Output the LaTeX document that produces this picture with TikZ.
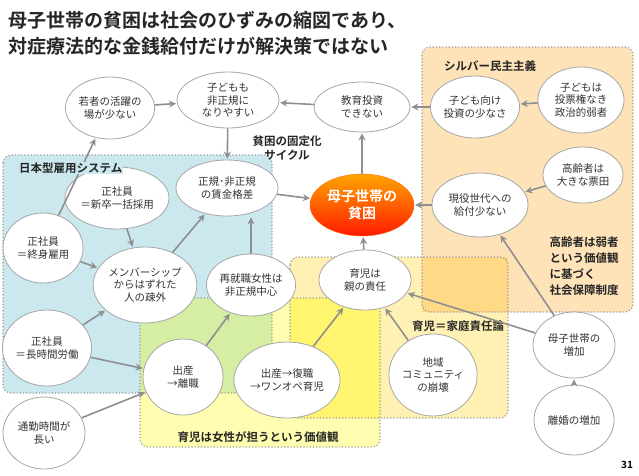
\documentclass[tikz,border=0pt]{standalone}
\usepackage{fontspec}
\setmainfont{Noto Sans CJK JP}
\newfontfamily\jpb{Noto Sans CJK JP}[BoldFont={* Bold}]
\usetikzlibrary{arrows.meta,shapes.geometric}
\definecolor{cblue}{HTML}{CBE8EF}
\definecolor{cyel}{HTML}{FFFDB0}
\definecolor{cyel2}{HTML}{FFF1B3}
\definecolor{corg}{HTML}{FEE2B8}
\definecolor{cgreen}{HTML}{D6EDA4}
\definecolor{cbright}{HTML}{FFF56E}
\definecolor{cdorg}{HTML}{FFD985}
\definecolor{carr}{HTML}{8F8F8F}
\tikzset{
 x=1pt,y=-1pt,
 el/.style={ellipse,draw=gray!70,fill=white,line width=0.8pt,align=center,inner sep=0pt,font=\fontsize{10.5}{12.5}\selectfont,text=black!80},
 arr/.style={-{Stealth[length=7pt,width=7pt]},draw=carr,line width=1.6pt,shorten >=1pt},
 region/.style={draw=gray!80,dotted,line width=1.2pt,rounded corners=8pt},
 lab/.style={font=\jpb\bfseries\fontsize{11.5}{14}\selectfont,text=black!85,align=left},
}
\begin{document}
\begin{tikzpicture}
\useasboundingbox (0,0) rectangle (639,475);
% region fills
\fill[cblue,rounded corners=8pt] (3,155) rectangle (272,393);
\fill[cyel,rounded corners=8pt] (140,298) rectangle (380,447);
\fill[cyel2,rounded corners=8pt] (290,257) rectangle (508,418);
\fill[corg,rounded corners=8pt] (422,47) rectangle (633,312);
\fill[cgreen] (140,298) rectangle (272,393);
\fill[cbright] (290,298) rectangle (380,418);
\fill[cdorg] (422,257) rectangle (508,312);
\draw[region] (3,155) rectangle (272,393);
\draw[region] (140,298) rectangle (380,447);
\draw[region] (290,257) rectangle (508,418);
\draw[region] (422,47) rectangle (633,312);
% titles
\node[anchor=west,font=\jpb\bfseries\fontsize{19}{22}\selectfont,text=black!85] (t1) at (5,20) {母子世帯の貧困は社会のひずみの縮図であり、};
\node[anchor=west,font=\jpb\bfseries\fontsize{19}{22}\selectfont,text=black!85] (t2) at (5,46) {対症療法的な金銭給付だけが解決策ではない};
\node[lab,align=center] (lb2) at (287,148) {貧困の固定化\\サイクル};
\node[lab] (lb3) at (490,66) {シルバー民主主義};
\node[lab,anchor=north west,font=\jpb\bfseries\fontsize{11.5}{16}\selectfont] (lb4) at (546,233) {高齢者は弱者\\という価値観\\に基づく\\社会保障制度};
\node[lab] (lb5) at (458,326) {育児＝家庭責任論};
\node[lab] (lb6) at (258,437) {育児は女性が担うという価値観};
\node[font=\jpb\bfseries\fontsize{10}{12}\selectfont] (pg) at (627,465) {31};
% nodes
\node[el,minimum width=76,minimum height=62] (wak) at (110,108) {若者の活躍の\\場が少ない};
\node[el,minimum width=102,minimum height=56] (kod) at (228,100) {子どもも\\非正規に\\なりやすい};
\node[el,minimum width=96,minimum height=50] (kyo) at (362,107) {教育投資\\できない};
\node[el,minimum width=86,minimum height=62] (kmu) at (475,107) {子ども向け\\投資の少なさ};
\node[el,minimum width=86,minimum height=66] (tou) at (581,100) {子どもは\\投票権なき\\政治的弱者};
\node[el,minimum width=80,minimum height=56] (kou) at (583,175) {高齢者は\\大きな票田};
\node[el,minimum width=96,minimum height=64] (gen) at (480,205) {現役世代への\\給付少ない};
\node[ellipse,minimum width=104,minimum height=62,inner sep=0pt,align=center,
  draw=orange!80!red,top color=orange!70!yellow,bottom color=red!80!orange,
  text=white,font=\jpb\bfseries\fontsize{14}{17}\selectfont] (hin) at (362,205) {母子世帯の\\貧困};
\node[el,minimum width=102,minimum height=56] (kak) at (227,188) {正規･非正規\\の賃金格差};
\node[el,minimum width=82,minimum height=62] (shi) at (117,198) {正社員\\＝新卒一括採用};
\node[el,minimum width=80,minimum height=70] (shu) at (43,248) {正社員\\＝終身雇用};
\node[el,minimum width=86,minimum height=76] (mem) at (145,285) {メンバーシップ\\からはずれた\\人の疎外};
\node[el,minimum width=82,minimum height=62] (sai) at (251,285) {再就職女性は\\非正規中心};
\node[el,minimum width=92,minimum height=60] (iku) at (365,280) {育児は\\親の責任};
\node[el,minimum width=82,minimum height=76] (cho) at (47,348) {正社員\\＝長時間労働};
\node[el,minimum width=80,minimum height=76] (rir) at (183,377) {出産\\→離職};
\node[el,minimum width=106,minimum height=76] (wan) at (287,380) {出産→復職\\→ワンオペ育児};
\node[el,minimum width=80,minimum height=82] (chi) at (433,375) {地域\\コミュニティ\\の崩壊};
\node[el,minimum width=82,minimum height=66] (zou) at (574,345) {母子世帯の\\増加};
\node[el,minimum width=80,minimum height=70] (rik) at (574,420) {離婚の増加};
\node[el,minimum width=82,minimum height=72] (tsu) at (44,433) {通勤時間が\\長い};
% arrows
\draw[arr] (wak) -- (kod);
\draw[arr] (kyo) -- (kod);
\draw[arr] (kmu) -- (kyo);
\draw[arr] (tou) -- (kmu);
\draw[arr] (kou) -- (gen);
\draw[arr] (gen) -- (hin);
\draw[arr] (hin) -- (kyo);
\draw[arr] (kod) -- (kak);
\draw[arr] (kak) -- (hin);
\draw[arr] (shu) -- (wak);
\draw[arr] (shi) -- (mem);
\draw[arr] (shu) -- (mem);
\draw[arr] (cho) -- (mem);
\draw[arr] (mem) -- (kak);
\draw[arr] (sai.north) -- (sai.north |- kak.south);
\draw[arr] (cho) -- (rir);
\draw[arr] (tsu) -- (rir);
\draw[arr] (rir) -- (sai);
\draw[arr] (wan) -- (iku);
\draw[arr] (iku) -- (hin);
\draw[arr] (chi) -- (iku);
\draw[arr] (zou) -- (iku);
\draw[arr] (zou) -- (gen);
\draw[arr] (rik) -- (zou);
\node[lab,anchor=west,fill=cblue,inner sep=1pt] (lb1) at (18,168) {日本型雇用システム};
\end{tikzpicture}
\end{document}
